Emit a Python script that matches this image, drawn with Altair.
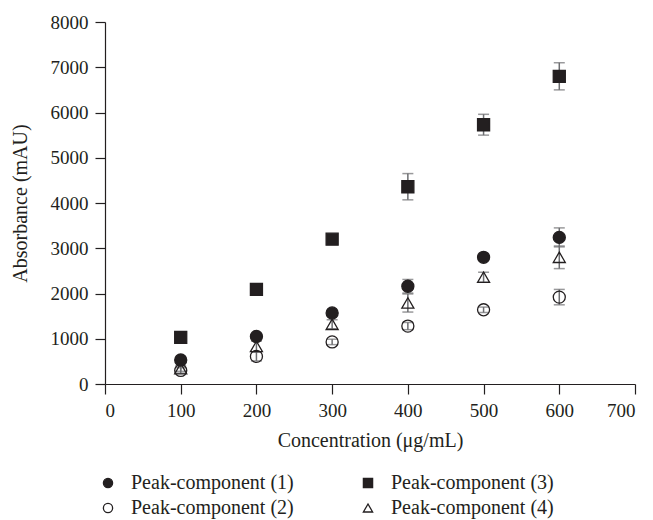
import altair as alt
import pandas as pd

concentration = [100, 200, 300, 400, 500, 600]
series_names = ["Peak-component (1)", "Peak-component (2)", "Peak-component (3)", "Peak-component (4)"]
s1 = [530, 1050, 1570, 2160, 2800, 3240]
e1 = [40, 40, 40, 150, 40, 210]
s2 = [300, 610, 930, 1280, 1640, 1920]
e2 = [60, 100, 60, 80, 60, 170]
s3 = [1030, 2090, 3200, 4360, 5730, 6800]
e3 = [60, 60, 80, 290, 230, 300]
s4 = [340, 830, 1320, 1790, 2360, 2800]
e4 = [60, 120, 100, 200, 110, 250]

rows = []
for name, vals, errs in zip(series_names, [s1, s2, s3, s4], [e1, e2, e3, e4]):
    for x, v, e in zip(concentration, vals, errs):
        rows.append({"series": name, "x": x, "y": v, "lo": v - e, "hi": v + e})
df = pd.DataFrame(rows)

shapes = ["circle", "circle", "square", "triangle-up"]
fills = ["#231f20", "transparent", "#231f20", "transparent"]
strokes = ["#231f20", "#231f20", "#231f20", "#231f20"]

FONT = "Liberation Serif"
INK = "#231f20"

xenc = alt.X("x:Q", title="Concentration (\u03bcg/mL)",
             scale=alt.Scale(domain=[0, 700], nice=False),
             axis=alt.Axis(values=[0, 100, 200, 300, 400, 500, 600, 700], format="d"))
yenc = alt.Y("y:Q", title="Absorbance (mAU)",
             scale=alt.Scale(domain=[0, 8000], nice=False),
             axis=alt.Axis(values=[0, 1000, 2000, 3000, 4000, 5000, 6000, 7000, 8000], format="d"))


def make_legend():
    return alt.Legend(title=None, orient="none", legendX=-7, legendY=451, direction="vertical",
                      columns=2, columnPadding=64, rowPadding=5,
                      symbolSize=85, symbolStrokeWidth=1.3, labelFont=FONT, labelFontSize=20,
                      labelColor=INK, labelOffset=13, labelLimit=300)


base = alt.Chart(df)

bars = base.mark_rule(color="#6d6e71", strokeWidth=1.5).encode(
    x=xenc, y=alt.Y("lo:Q"), y2="hi:Q")
cap_lo = base.mark_tick(orient="horizontal", size=11, thickness=1.5, color="#6d6e71").encode(
    x="x:Q", y="lo:Q")
cap_hi = base.mark_tick(orient="horizontal", size=11, thickness=1.5, color="#6d6e71").encode(
    x="x:Q", y="hi:Q")

points = base.mark_point(filled=True, strokeWidth=1.3, size=145, opacity=1).encode(
    x=xenc,
    y=yenc,
    shape=alt.Shape("series:N", scale=alt.Scale(domain=series_names, range=shapes),
                    legend=make_legend()),
    fill=alt.Fill("series:N", scale=alt.Scale(domain=series_names, range=fills),
                  legend=make_legend()),
    stroke=alt.Stroke("series:N", scale=alt.Scale(domain=series_names, range=strokes),
                      legend=make_legend()),
)

chart = alt.layer(bars, cap_lo, cap_hi, points).properties(
    width=530, height=362,
    autosize=alt.AutoSizeParams(type="none"),
    padding={"left": 97, "top": 14, "right": 10, "bottom": 136},
).configure_view(stroke=None).configure_axis(
    grid=False, domainColor=INK, tickColor=INK, domainWidth=1.2, tickWidth=1.2,
    tickSize=10, labelFont=FONT, labelFontSize=19, labelColor=INK, labelPadding=7,
    titleFont=FONT, titleFontSize=20, titleFontWeight="normal", titleColor=INK,
).configure_axisY(titlePadding=20).configure_axisX(titlePadding=10)

chart.save("out.html", embed_options={"renderer": "svg", "actions": False})
